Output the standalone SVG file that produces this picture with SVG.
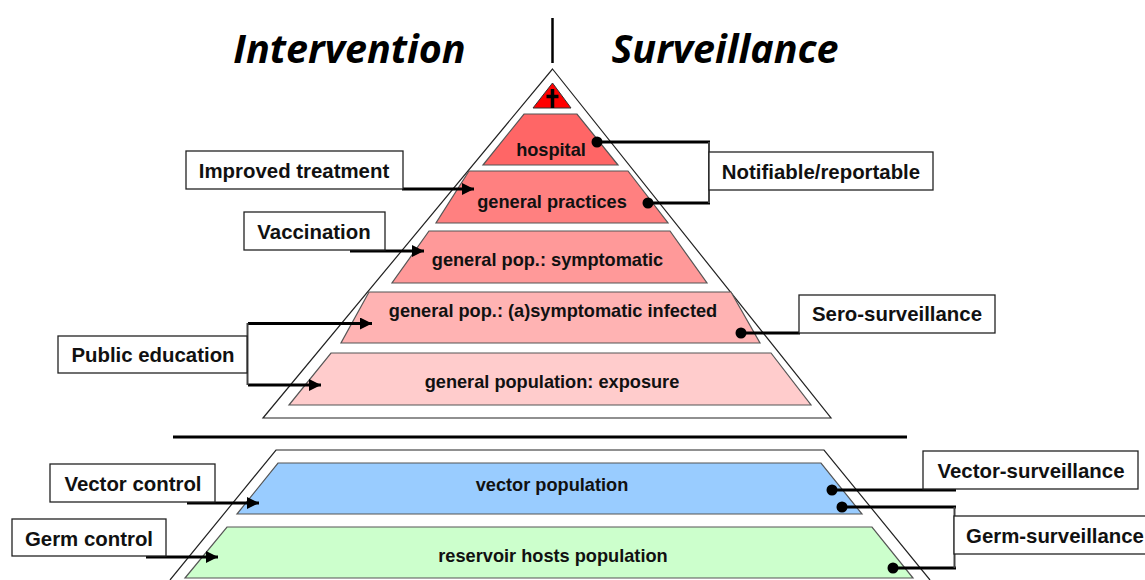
<svg xmlns="http://www.w3.org/2000/svg" width="1145" height="580" viewBox="0 0 1145 580">
<style>
text{font-family:"Liberation Sans",Arial,sans-serif;font-weight:bold;font-size:20.4px;fill:#111;text-anchor:middle}
.t{font-family:"Open Sans",sans-serif;font-style:italic;font-size:39.500px;fill:#000}
.s{font-size:18.200px}
.b{fill:#fff;stroke:#222;stroke-width:1.3}
.o{fill:none;stroke:#222;stroke-width:1.2}
.l{stroke:#555;stroke-width:1.2}
.w{fill:none;stroke:#000;stroke-width:3}
.v{fill:none;stroke:#444;stroke-width:2}
</style>
<defs><marker id="a" markerUnits="userSpaceOnUse" markerWidth="14" markerHeight="13" refX="12" refY="6" orient="auto"><path d="M0 0L12 6L0 12z" fill="#000"/></marker></defs>
<rect width="1145" height="580" fill="#fff"/>
<g id="titles"><text class="t" x="349.500" y="63">Intervention</text><text class="t" x="725" y="63">Surveillance</text><path d="M552.500 18V63" stroke="#000" stroke-width="2.500"/></g>
<g id="pyramid-top"><path class="o" d="M552.500 69L831 418H263z"/></g>
<g id="pyramid-bottom"><path class="o" d="M170 580L276 450H824L930 580"/></g>
<path id="divider" d="M173 437H907" stroke="#000" stroke-width="3"/>
<g id="tier-death"><path d="M552.500 83L571 108H533z" fill="#f00" stroke="#333"/><path d="M552.500 89V108M546.500 96.500H558.500" stroke="#000" stroke-width="3.500" fill="none"/></g>
<g id="tier-hospital"><path class="l" d="M524 114H577L618 165H483z" fill="#f66"/><text class="s" x="551" y="156">hospital</text></g>
<g id="tier-practices"><path class="l" d="M469 171H628L668 223H436z" fill="#ff8080"/><text class="s" x="552" y="208">general practices</text></g>
<g id="tier-symptomatic"><path class="l" d="M429 231H670L707 283H392z" fill="#ff9999"/><text class="s" x="547.500" y="266">general pop.: symptomatic</text></g>
<g id="tier-infected"><path class="l" d="M369 292H731L760 343H341z" fill="#ffb3b3"/><text class="s" x="553" y="317">general pop.: (a)symptomatic infected</text></g>
<g id="tier-exposure"><path class="l" d="M331 353H771L811 405H289z" fill="#ffcccc"/><text class="s" x="552" y="388">general population: exposure</text></g>
<g id="tier-vector"><path class="l" d="M278 463H821L862 514H237z" fill="#99ccff"/><text class="s" x="552" y="491">vector population</text></g>
<g id="tier-reservoir"><path class="l" d="M227 527H872L913 578H185z" fill="#ccffcc"/><text class="s" x="553" y="562">reservoir hosts population</text></g>
<g id="connectors">
<path class="w" d="M402 189H474" stroke-width="2" marker-end="url(#a)"/>
<path class="w" d="M350 251H424" stroke-width="2" marker-end="url(#a)"/>
<path class="w" d="M248 323.500H372" marker-end="url(#a)"/>
<path class="w" d="M248 385H321" marker-end="url(#a)"/>
<path class="v" d="M247.500 323V385"/>
<path class="w" d="M187 503H259" stroke-width="2.500" marker-end="url(#a)"/>
<path class="w" d="M146 557H218" stroke-width="2.500" marker-end="url(#a)"/>
<path class="w" d="M597 142H710"/><path class="w" d="M648 203H710"/><path class="v" d="M709 142V203"/>
<path class="w" d="M741 333L800 333" stroke-width="2"/>
<path class="w" d="M832 490H956"/><path class="w" d="M842 507H956" stroke-width="2.500"/><path class="w" d="M893 568H956" stroke-width="2.500"/><path class="v" d="M954.500 507V568"/>
<g fill="#000"><circle cx="597" cy="142" r="5.500"/><circle cx="648" cy="203" r="5.500"/><circle cx="741" cy="333" r="5.500"/><circle cx="832" cy="490" r="5.500"/><circle cx="842" cy="507" r="5.500"/><circle cx="893" cy="568" r="5.500"/></g>
</g>
<g id="label-treatment"><rect class="b" x="186" y="151" width="217" height="38"/><text x="294" y="178">Improved treatment</text></g>
<g id="label-vaccination"><rect class="b" x="244" y="212" width="141" height="38"/><text x="314" y="239">Vaccination</text></g>
<g id="label-education"><rect class="b" x="58" y="336" width="189" height="37"/><text x="153" y="362">Public education</text></g>
<g id="label-vector-control"><rect class="b" x="50" y="464" width="165" height="38"/><text x="133" y="491">Vector control</text></g>
<g id="label-germ-control"><rect class="b" x="12" y="519" width="154" height="37"/><text x="89" y="546">Germ control</text></g>
<g id="label-notifiable"><rect class="b" x="709" y="152" width="224" height="38"/><text x="821" y="179">Notifiable/reportable</text></g>
<g id="label-sero"><rect class="b" x="799" y="295" width="196" height="38"/><text x="897" y="321">Sero-surveillance</text></g>
<g id="label-vector-surv"><rect class="b" x="923" y="451" width="215" height="38"/><text x="1031" y="478">Vector-surveillance</text></g>
<g id="label-germ-surv"><rect class="b" x="954" y="516" width="200" height="38"/><text x="1055" y="543">Germ-surveillance</text></g>
</svg>
